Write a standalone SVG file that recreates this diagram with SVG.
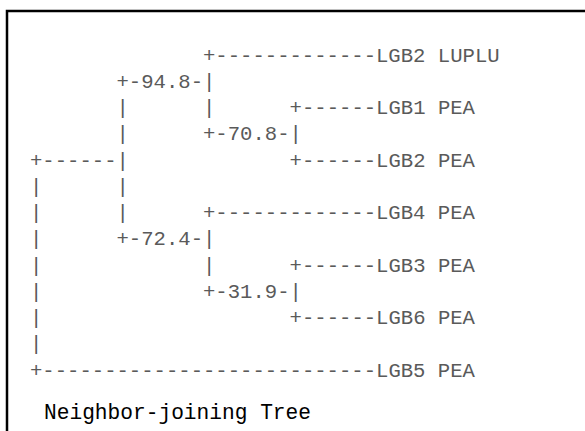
<svg xmlns="http://www.w3.org/2000/svg" width="585" height="431" viewBox="0 0 585 431">
  <style>
    .tree { font-family: "Liberation Mono", "Courier New", monospace; font-size: 20.6px; fill: #5a5a5a; }
    .caption { font-family: "Liberation Mono", "Courier New", monospace; font-size: 21.2px; fill: #000; }
  </style>
  <rect width="585" height="431" fill="#fff"/>
  <!-- frame: left and top edges -->
  <path d="M7,431 V11 H585" fill="none" stroke="#000" stroke-width="2.5"/>
  <!-- character grid: column c starts at x = 30 + 12.36*c; rows every 26.25px -->
  <g id="tree" class="tree">
    <text y="61.7"><tspan x="203.0">+-------------LGB2 LUPLU</tspan></text>
    <text y="87.9"><tspan x="116.5">+-94.8-|</tspan></text>
    <text y="114.2"><tspan x="116.5">|</tspan><tspan x="203.0">|</tspan><tspan x="289.6">+------LGB1 PEA</tspan></text>
    <text y="140.4"><tspan x="116.5">|</tspan><tspan x="203.0">+-70.8-|</tspan></text>
    <text y="166.7"><tspan x="30">+------|</tspan><tspan x="289.6">+------LGB2 PEA</tspan></text>
    <text y="192.9"><tspan x="30">|</tspan><tspan x="116.5">|</tspan></text>
    <text y="219.2"><tspan x="30">|</tspan><tspan x="116.5">|</tspan><tspan x="203.0">+-------------LGB4 PEA</tspan></text>
    <text y="245.4"><tspan x="30">|</tspan><tspan x="116.5">+-72.4-|</tspan></text>
    <text y="271.7"><tspan x="30">|</tspan><tspan x="203.0">|</tspan><tspan x="289.6">+------LGB3 PEA</tspan></text>
    <text y="297.9"><tspan x="30">|</tspan><tspan x="203.0">+-31.9-|</tspan></text>
    <text y="324.2"><tspan x="30">|</tspan><tspan x="289.6">+------LGB6 PEA</tspan></text>
    <text y="350.4"><tspan x="30">|</tspan></text>
    <text y="376.7"><tspan x="30">+---------------------------LGB5 PEA</tspan></text>
  </g>
  <g id="caption" class="caption">
    <text x="44" y="419">Neighbor-joining Tree</text>
  </g>
</svg>
